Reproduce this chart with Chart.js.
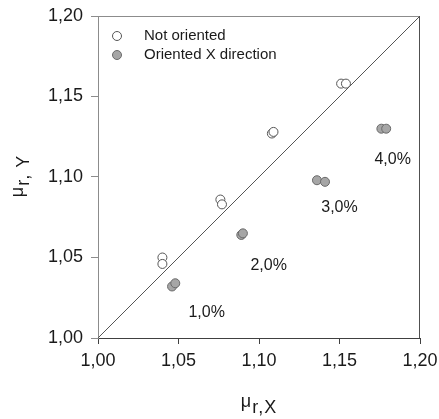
<!DOCTYPE html>
<html>
<head>
<meta charset="utf-8">
<script src="https://cdn.jsdelivr.net/npm/chart.js@4/dist/chart.umd.min.js"></script>
<style>
  html, body { margin: 0; padding: 0; background: #fff; }
  #wrap { width: 439px; height: 419px; }
</style>
</head>
<body>
<div id="wrap"><canvas id="c" width="439" height="419"></canvas></div>
<script>
// ---- data ----
const axisMin = 1.00;
const axisMax = 1.20;
const tickStep = 0.05;
const notOrientedX = [1.040, 1.040, 1.076, 1.077, 1.108, 1.109, 1.151, 1.154];
const notOrientedY = [1.050, 1.046, 1.086, 1.083, 1.127, 1.128, 1.158, 1.158];
const orientedX = [1.046, 1.048, 1.089, 1.090, 1.136, 1.141, 1.176, 1.179];
const orientedY = [1.032, 1.034, 1.064, 1.065, 1.098, 1.097, 1.130, 1.130];
const diagonal = [1.00, 1.20];
const concLabels = ['1,0%', '2,0%', '3,0%', '4,0%'];
const concLabelX = [1.0675, 1.106, 1.150, 1.183];
const concLabelY = [1.016, 1.045, 1.081, 1.111];
const seriesNames = ['Not oriented', 'Oriented X direction'];

const FONT = '"Liberation Sans", Arial, sans-serif';
const fmt = v => v.toFixed(2).replace('.', ',');
const pts = (xs, ys) => xs.map((x, i) => ({ x: x, y: ys[i] }));

const overlay = {
  id: 'overlay',
  afterDraw(chart) {
    const ctx = chart.ctx;
    const a = chart.chartArea;
    const xs = chart.scales.x, ys = chart.scales.y;
    ctx.save();
    // frame top & right
    ctx.lineWidth = 1;
    ctx.strokeStyle = '#8c8c8c';
    ctx.beginPath(); ctx.moveTo(a.left, a.top + 0.5); ctx.lineTo(a.right, a.top + 0.5); ctx.stroke();
    ctx.strokeStyle = '#505050';
    ctx.beginPath(); ctx.moveTo(a.right - 0.5, a.top); ctx.lineTo(a.right - 0.5, a.bottom); ctx.stroke();

    // concentration labels
    ctx.fillStyle = '#1a1a1a';
    ctx.font = '16px ' + FONT;
    ctx.textAlign = 'center';
    ctx.textBaseline = 'middle';
    concLabels.forEach((t, i) => {
      ctx.fillText(t, xs.getPixelForValue(concLabelX[i]), ys.getPixelForValue(concLabelY[i]));
    });

    // legend
    const ds = chart.data.datasets;
    ctx.font = '15px ' + FONT;
    ctx.textAlign = 'left';
    [0, 1].forEach(i => {
      const cy = a.top + 20 + i * 19;
      const cx = a.left + 19;
      ctx.beginPath();
      ctx.arc(cx, cy, 4.5, 0, Math.PI * 2);
      ctx.fillStyle = ds[i].backgroundColor;
      ctx.fill();
      ctx.lineWidth = 1;
      ctx.strokeStyle = ds[i].borderColor;
      ctx.stroke();
      ctx.fillStyle = '#1a1a1a';
      ctx.fillText(seriesNames[i], a.left + 46, cy);
    });

    // axis titles
    ctx.fillStyle = '#1a1a1a';
    ctx.textBaseline = 'alphabetic';
    ctx.font = '18px ' + FONT;
    const wMu = ctx.measureText('\u03bc').width;
    ctx.letterSpacing = '1px';
    const wRest = ctx.measureText('r,X').width;
    const wRestY = ctx.measureText('r, Y').width;
    // x title
    const xc = (a.left + a.right) / 2;
    let x0 = xc - (wMu + 1 + wRest) / 2;
    ctx.letterSpacing = '0px';
    ctx.fillText('\u03bc', x0, 407);
    ctx.letterSpacing = '1px';
    ctx.fillText('r,X', x0 + wMu + 1, 413);
    // y title (rotated)
    const yc = 176;
    ctx.translate(29, yc);
    ctx.rotate(-Math.PI / 2);
    x0 = -(wMu + 1 + wRestY) / 2;
    ctx.letterSpacing = '0px';
    ctx.fillText('\u03bc', x0, -6);
    ctx.letterSpacing = '1px';
    ctx.fillText('r, Y', x0 + wMu + 1, 0);
    ctx.restore();
  }
};

new Chart(document.getElementById('c'), {
  type: 'scatter',
  data: {
    datasets: [
      {
        label: seriesNames[0],
        data: pts(notOrientedX, notOrientedY),
        backgroundColor: '#ffffff',
        borderColor: '#555555',
        borderWidth: 1,
        pointRadius: 4.5,
        order: 1
      },
      {
        label: seriesNames[1],
        data: pts(orientedX, orientedY),
        backgroundColor: '#a6a6a6',
        borderColor: '#6a6a6a',
        borderWidth: 1,
        pointRadius: 4.5,
        order: 1
      },
      {
        type: 'line',
        label: 'diagonal',
        data: pts(diagonal, diagonal),
        borderColor: '#555555',
        borderWidth: 1,
        pointRadius: 0,
        fill: false,
        order: 2
      }
    ]
  },
  options: {
    responsive: false,
    animation: false,
    layout: { padding: { left: 0, top: 16, right: 19, bottom: 0 } },
    plugins: { legend: { display: false }, tooltip: { enabled: false } },
    scales: {
      x: {
        type: 'linear',
        min: axisMin, max: axisMax,
        afterFit(s) { s.height = 81; s.paddingLeft = 0; s.paddingRight = 0; },
        border: { color: '#404040', width: 1 },
        grid: { drawOnChartArea: false, drawTicks: true, tickLength: 6, color: '#404040' },
        ticks: { stepSize: tickStep, padding: 6, color: '#1a1a1a', font: { family: FONT, size: 18 }, callback: v => fmt(v), maxRotation: 0 }
      },
      y: {
        type: 'linear',
        min: axisMin, max: axisMax,
        afterFit(s) { s.width = 98; s.paddingTop = 0; s.paddingBottom = 0; },
        border: { color: '#8c8c8c', width: 1 },
        grid: { drawOnChartArea: false, drawTicks: true, tickLength: 7, color: '#8c8c8c' },
        ticks: { stepSize: tickStep, padding: 8, color: '#1a1a1a', font: { family: FONT, size: 18 }, callback: v => fmt(v) }
      }
    }
  },
  plugins: [overlay]
});
</script>
</body>
</html>
